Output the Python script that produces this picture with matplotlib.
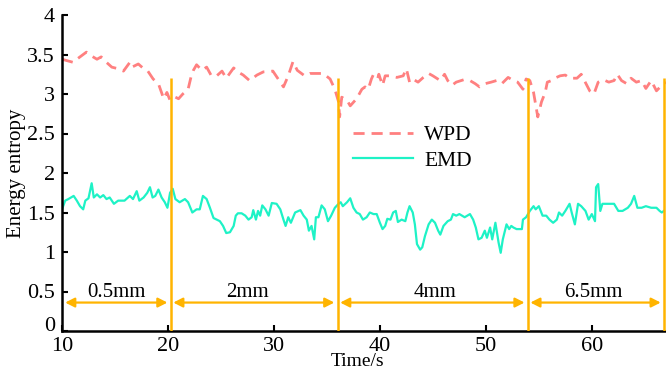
import matplotlib
matplotlib.use("Agg")
import matplotlib.pyplot as plt

plt.rcParams['font.family'] = ['Liberation Serif', 'DejaVu Serif']

# WPD energy entropy (time in s, value)
wpd_t = [10.0, 11.07, 11.5, 12.3, 12.8, 13.3, 13.7, 14.2, 14.7, 15.3, 15.8, 16.4, 16.6, 17.2,
         17.8, 18.1, 18.6, 19.1, 19.6, 19.9, 20.2, 20.7, 21.0, 21.4, 21.9, 22.2, 22.4, 22.7,
         23.2, 23.65, 24.1, 24.6, 25.1, 25.5, 26.2, 26.6, 27.1, 27.7, 28.4, 29.0, 29.9, 30.4,
         30.9, 31.35, 31.8, 32.2, 32.9, 33.4, 34.0, 34.65, 35.3, 35.75, 36.1, 36.2, 36.4, 36.9,
         37.2, 37.8, 38.3, 38.6, 38.9, 39.2, 39.4, 39.8, 39.9, 40.25, 40.5, 40.9, 41.6, 42.2,
         42.5, 42.8, 43.1, 43.6, 44.1, 44.6, 45.0, 45.7, 46.1, 46.4, 46.8, 47.2, 47.9, 48.5,
         49.0, 49.4, 49.9, 50.5, 51.0, 51.5, 52.1, 52.6, 53.0, 53.5, 53.8, 54.15, 54.5, 54.9,
         55.25, 55.6, 55.8, 56.2, 56.5, 57.0, 57.5, 57.9, 58.6, 59.0, 59.3, 59.8, 60.2, 60.6,
         61.1, 61.6, 62.1, 62.4, 62.8, 63.3, 63.7, 64.2, 64.7, 65.1, 65.6, 66.1, 66.6, 67.0]
wpd_v = [3.44, 3.40, 3.45, 3.53, 3.48, 3.44, 3.47, 3.40, 3.34, 3.32, 3.29, 3.40, 3.34, 3.38,
         3.31, 3.29, 3.19, 3.13, 2.94, 3.02, 2.92, 2.96, 2.94, 3.00, 3.06, 3.23, 3.30, 3.37,
         3.30, 3.34, 3.23, 3.23, 3.29, 3.20, 3.33, 3.28, 3.24, 3.17, 3.24, 3.28, 3.29, 3.19,
         3.09, 3.23, 3.41, 3.30, 3.23, 3.26, 3.26, 3.26, 3.19, 3.06, 2.90, 2.71, 2.96, 2.92,
         2.85, 2.94, 3.06, 3.09, 3.06, 3.19, 3.25, 3.20, 3.25, 3.11, 3.23, 3.23, 3.21, 3.23,
         3.32, 3.15, 3.19, 3.15, 3.21, 3.26, 3.23, 3.17, 3.25, 3.17, 3.11, 3.15, 3.18, 3.17,
         3.13, 3.09, 3.13, 3.15, 3.17, 3.13, 3.21, 3.17, 3.15, 3.06, 3.19, 3.17, 3.02, 2.71,
         2.90, 3.02, 3.15, 3.17, 3.20, 3.23, 3.24, 3.20, 3.20, 3.25, 3.17, 3.04, 3.00, 3.15,
         3.18, 3.15, 3.17, 3.25, 3.17, 3.13, 3.20, 3.15, 3.17, 3.07, 3.17, 3.04, 3.11, 3.15]

# EMD energy entropy (time in s, value)
emd_t = [10.0, 10.3, 10.6, 11.1, 11.4, 11.7, 12.0, 12.2, 12.5, 12.8, 13.0, 13.3, 13.6, 13.9,
         14.2, 14.5, 14.9, 15.3, 15.9, 16.4, 16.7, 17.05, 17.3, 17.7, 18.05, 18.3, 18.55, 18.8,
         19.1, 19.4, 19.7, 19.95, 20.2, 20.45, 20.7, 21.1, 21.6, 21.9, 22.3, 22.7, 23.0, 23.3,
         23.65, 23.96, 24.3, 24.6, 24.9, 25.2, 25.5, 25.85, 26.2, 26.4, 26.6, 26.95, 27.3, 27.6,
         27.9, 28.05, 28.3, 28.5, 28.7, 28.9, 29.2, 29.5, 29.8, 30.25, 30.6, 30.9, 31.1, 31.35,
         31.6, 32.0, 32.5, 32.8, 33.1, 33.3, 33.55, 33.8, 33.96, 34.2, 34.5, 34.8, 35.1, 35.4,
         35.75, 36.1, 36.3, 36.5, 36.9, 37.2, 37.5, 37.8, 38.1, 38.4, 38.75, 39.05, 39.4, 39.7,
         40.0, 40.25, 40.5, 40.7, 41.0, 41.25, 41.5, 41.7, 42.05, 42.4, 42.6, 42.8, 43.1, 43.3,
         43.5, 43.8, 44.0, 44.25, 44.6, 44.9, 45.2, 45.5, 45.7, 46.0, 46.4, 46.7, 46.9, 47.2,
         47.5, 48.0, 48.5, 48.8, 49.05, 49.3, 49.6, 49.9, 50.1, 50.4, 50.6, 50.9, 51.2, 51.4,
         51.6, 51.95, 52.2, 52.4, 52.6, 52.9, 53.4, 53.5, 53.8, 54.15, 54.5, 54.7, 55.0, 55.35,
         55.7, 56.0, 56.35, 56.7, 56.9, 57.2, 57.5, 57.9, 58.1, 58.4, 58.7, 59.0, 59.4, 59.7,
         60.0, 60.3, 60.4, 60.6, 60.8, 61.0, 61.5, 62.1, 62.5, 62.9, 63.4, 63.7, 64.0, 64.3,
         64.7, 65.1, 65.6, 66.1, 66.4, 66.6, 66.8]
emd_v = [1.54, 1.65, 1.67, 1.71, 1.65, 1.58, 1.54, 1.65, 1.68, 1.87, 1.69, 1.73, 1.69, 1.72,
         1.67, 1.69, 1.61, 1.65, 1.65, 1.71, 1.67, 1.77, 1.65, 1.69, 1.75, 1.82, 1.69, 1.71,
         1.79, 1.69, 1.63, 1.56, 1.75, 1.80, 1.67, 1.63, 1.67, 1.63, 1.50, 1.54, 1.54, 1.71,
         1.67, 1.56, 1.43, 1.41, 1.39, 1.33, 1.24, 1.25, 1.33, 1.46, 1.49, 1.49, 1.46, 1.41,
         1.44, 1.53, 1.41, 1.52, 1.46, 1.59, 1.54, 1.46, 1.62, 1.61, 1.54, 1.41, 1.33, 1.44,
         1.37, 1.50, 1.53, 1.46, 1.41, 1.27, 1.33, 1.16, 1.44, 1.44, 1.59, 1.54, 1.39, 1.46,
         1.56, 1.61, 1.63, 1.58, 1.63, 1.68, 1.56, 1.50, 1.48, 1.41, 1.44, 1.50, 1.48, 1.48,
         1.37, 1.29, 1.33, 1.42, 1.41, 1.50, 1.52, 1.38, 1.41, 1.39, 1.50, 1.58, 1.50, 1.35,
         1.10, 1.03, 1.06, 1.20, 1.35, 1.41, 1.37, 1.27, 1.22, 1.33, 1.39, 1.41, 1.48, 1.46,
         1.48, 1.44, 1.48, 1.41, 1.31, 1.16, 1.18, 1.27, 1.18, 1.31, 1.16, 1.37, 1.12, 0.99,
         1.16, 1.35, 1.29, 1.33, 1.31, 1.29, 1.29, 1.41, 1.44, 1.52, 1.58, 1.54, 1.58, 1.46,
         1.46, 1.41, 1.37, 1.41, 1.50, 1.46, 1.52, 1.61, 1.50, 1.35, 1.61, 1.58, 1.52, 1.41,
         1.48, 1.39, 1.82, 1.86, 1.52, 1.61, 1.61, 1.61, 1.52, 1.52, 1.56, 1.61, 1.71, 1.56,
         1.56, 1.58, 1.56, 1.56, 1.52, 1.50, 1.52]

# Stage boundaries (s) and wear-depth labels
boundaries = [20.25, 36.0, 53.95, 66.8]
stage_labels = ['0.5mm', '2mm', '4mm', '6.5mm']
stage_label_x = [15.1, 27.5, 45.2, 60.1]
xticks = [10, 20, 30, 40, 50, 60]
yticks = [0, 0.5, 1, 1.5, 2, 2.5, 3, 3.5, 4]
ytick_labels = ['0', '0.5', '1', '1.5', '2', '2.5', '3', '3.5', '4']

wpd_color = '#FF8080'
emd_color = '#1EF2C6'
marker_color = '#FFB400'

fig = plt.figure(figsize=(6.66, 3.71), dpi=100)
ax = fig.add_axes([62 / 666, 40 / 371, 604 / 666, 316 / 371])

ax.plot(wpd_t, wpd_v, color=wpd_color, lw=2.0, dashes=(4, 2.5), label='WPD')
ax.plot(emd_t, emd_v, color=emd_color, lw=1.6, label='EMD')

ax.vlines(boundaries, 0, 3.2, colors=marker_color, lw=1.8, zorder=4)

starts = [10.3] + [b + 0.25 for b in boundaries[:-1]]
ends = [b - 0.3 for b in boundaries]
for s, e, lab, lx in zip(starts, ends, stage_labels, stage_label_x):
    ax.annotate('', xy=(e, 0.36), xytext=(s, 0.36),
                arrowprops=dict(arrowstyle='<|-|>,head_length=0.55,head_width=0.28',
                                color=marker_color, lw=1.6, shrinkA=0, shrinkB=0))
    ax.text(lx, 0.37, lab, ha='center', va='bottom', fontsize=15)

ax.set_xlim(10, 67)
ax.set_ylim(0, 4)
ax.set_xticks(xticks)
ax.set_yticks(yticks)
ax.set_yticklabels(ytick_labels)
ax.tick_params(direction='in', length=4, width=1.5, labelsize=16)
ax.tick_params(axis='x', pad=4)
ax.tick_params(axis='y', pad=5)
ax.get_yticklabels()[0].set_va('baseline')
for side in ('top', 'right'):
    ax.spines[side].set_visible(False)
for side in ('left', 'bottom'):
    ax.spines[side].set_linewidth(1.8)

ax.set_xlabel('Time/s', fontsize=14, labelpad=-0.5)
ax.xaxis.set_label_coords(0.49, -0.07)
ax.xaxis.label.set_va('top')
ax.set_ylabel('Energy entropy', fontsize=15, labelpad=1)

ax.legend(loc='upper left', bbox_to_anchor=(0.45, 0.713), frameon=False,
          fontsize=15.5, handlelength=2.8, handletextpad=0.5, labelspacing=0.25)

fig.savefig('out.png', dpi=100)
